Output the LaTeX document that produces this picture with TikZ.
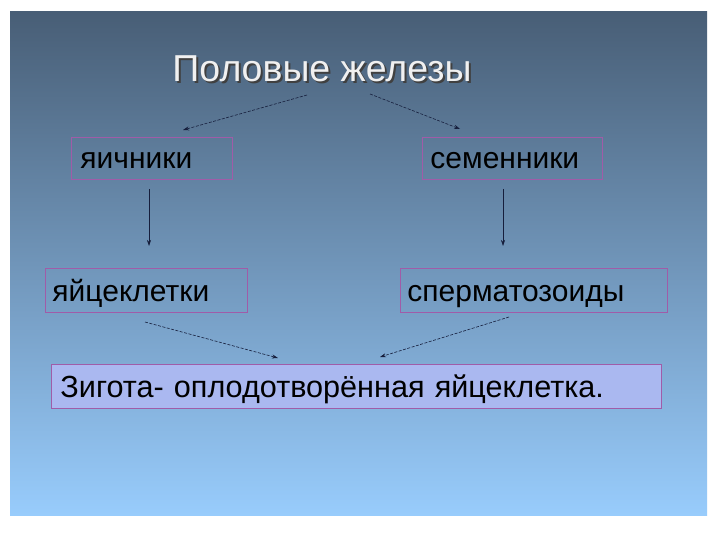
\documentclass[tikz,border=0pt]{standalone}
\usepackage{fontspec}
\setmainfont{Liberation Sans}
\usetikzlibrary{arrows.meta}
\definecolor{slidetop}{RGB}{72,94,118}
\definecolor{slidebot}{RGB}{152,204,252}
\definecolor{boxline}{RGB}{160,92,168}
\definecolor{zfill}{RGB}{170,184,240}
\definecolor{arrowc}{RGB}{22,30,60}
\tikzset{
  box/.style={draw=boxline, line width=0.9pt, anchor=north west, inner xsep=0pt,
    font=\fontsize{30}{34}\selectfont, text=black, align=left},
  boxw/.style={minimum width=#1, text width=#1},
  boxs/.style={inner ysep=6.5pt, text height=25pt, text depth=4pt},
  boxt/.style={inner ysep=7.5pt, text height=26pt, text depth=3pt},
  conn/.style={draw=arrowc, line width=0.6pt, -{Stealth[length=6pt,width=4pt]}},
  dconn/.style={conn, dash pattern=on 3pt off 1.5pt},
}
\begin{document}
\begin{tikzpicture}[x=1pt,y=-1pt]
\useasboundingbox (0,0) rectangle (720,540);
\fill[white] (0,0) rectangle (720,540);
\shade[top color=slidetop, bottom color=slidebot] (10,12) rectangle (707,515);
% title with shadow
\node (title) [font=\fontsize{37.5}{40}\selectfont, text=white!94!black] at (322,70)
  {\makebox[0pt][l]{\hspace{2pt}\raisebox{-2pt}{\color{black!75}Половые железы}}Половые железы};
% boxes
\node (ovary) [box, boxs, boxw=161] at (71,137) {\hspace*{9pt}яичники};
\node (testis) [box, boxs, boxw=180] at (422,137) {\hspace*{8pt}семенники};
\node (egg) [box, boxt, boxw=202] at (45,268) {\hspace*{7pt}яйцеклетки};
\node (sperm) [box, boxt, boxw=267] at (400,268) {\hspace*{7pt}сперматозоиды};
\node (zyg) [box, boxt, boxw=610, fill=zfill, font=\fontsize{30.6}{34}\selectfont] at (51,364)
  {\hspace*{9pt}Зигота- оплодотворённая яйцеклетка.};
% connector end points
\coordinate (t1) at (307,95);
\coordinate (t2) at (370,94);
\coordinate (a1) at (183,130);
\coordinate (a2) at (460,129);
\coordinate (o1) at (149,189);
\coordinate (o2) at (149,246);
\coordinate (s1) at (503,189);
\coordinate (s2) at (503,246);
\coordinate (e1) at (145,322);
\coordinate (z1) at (278,358);
\coordinate (p1) at (509,317);
\coordinate (z2) at (380,357);
\draw[dconn] (t1) -- (a1);
\draw[dconn] (t2) -- (a2);
\draw[conn] (o1) -- (o2);
\draw[conn] (s1) -- (s2);
\draw[dconn] (e1) -- (z1);
\draw[dconn] (p1) -- (z2);
\end{tikzpicture}
\end{document}
